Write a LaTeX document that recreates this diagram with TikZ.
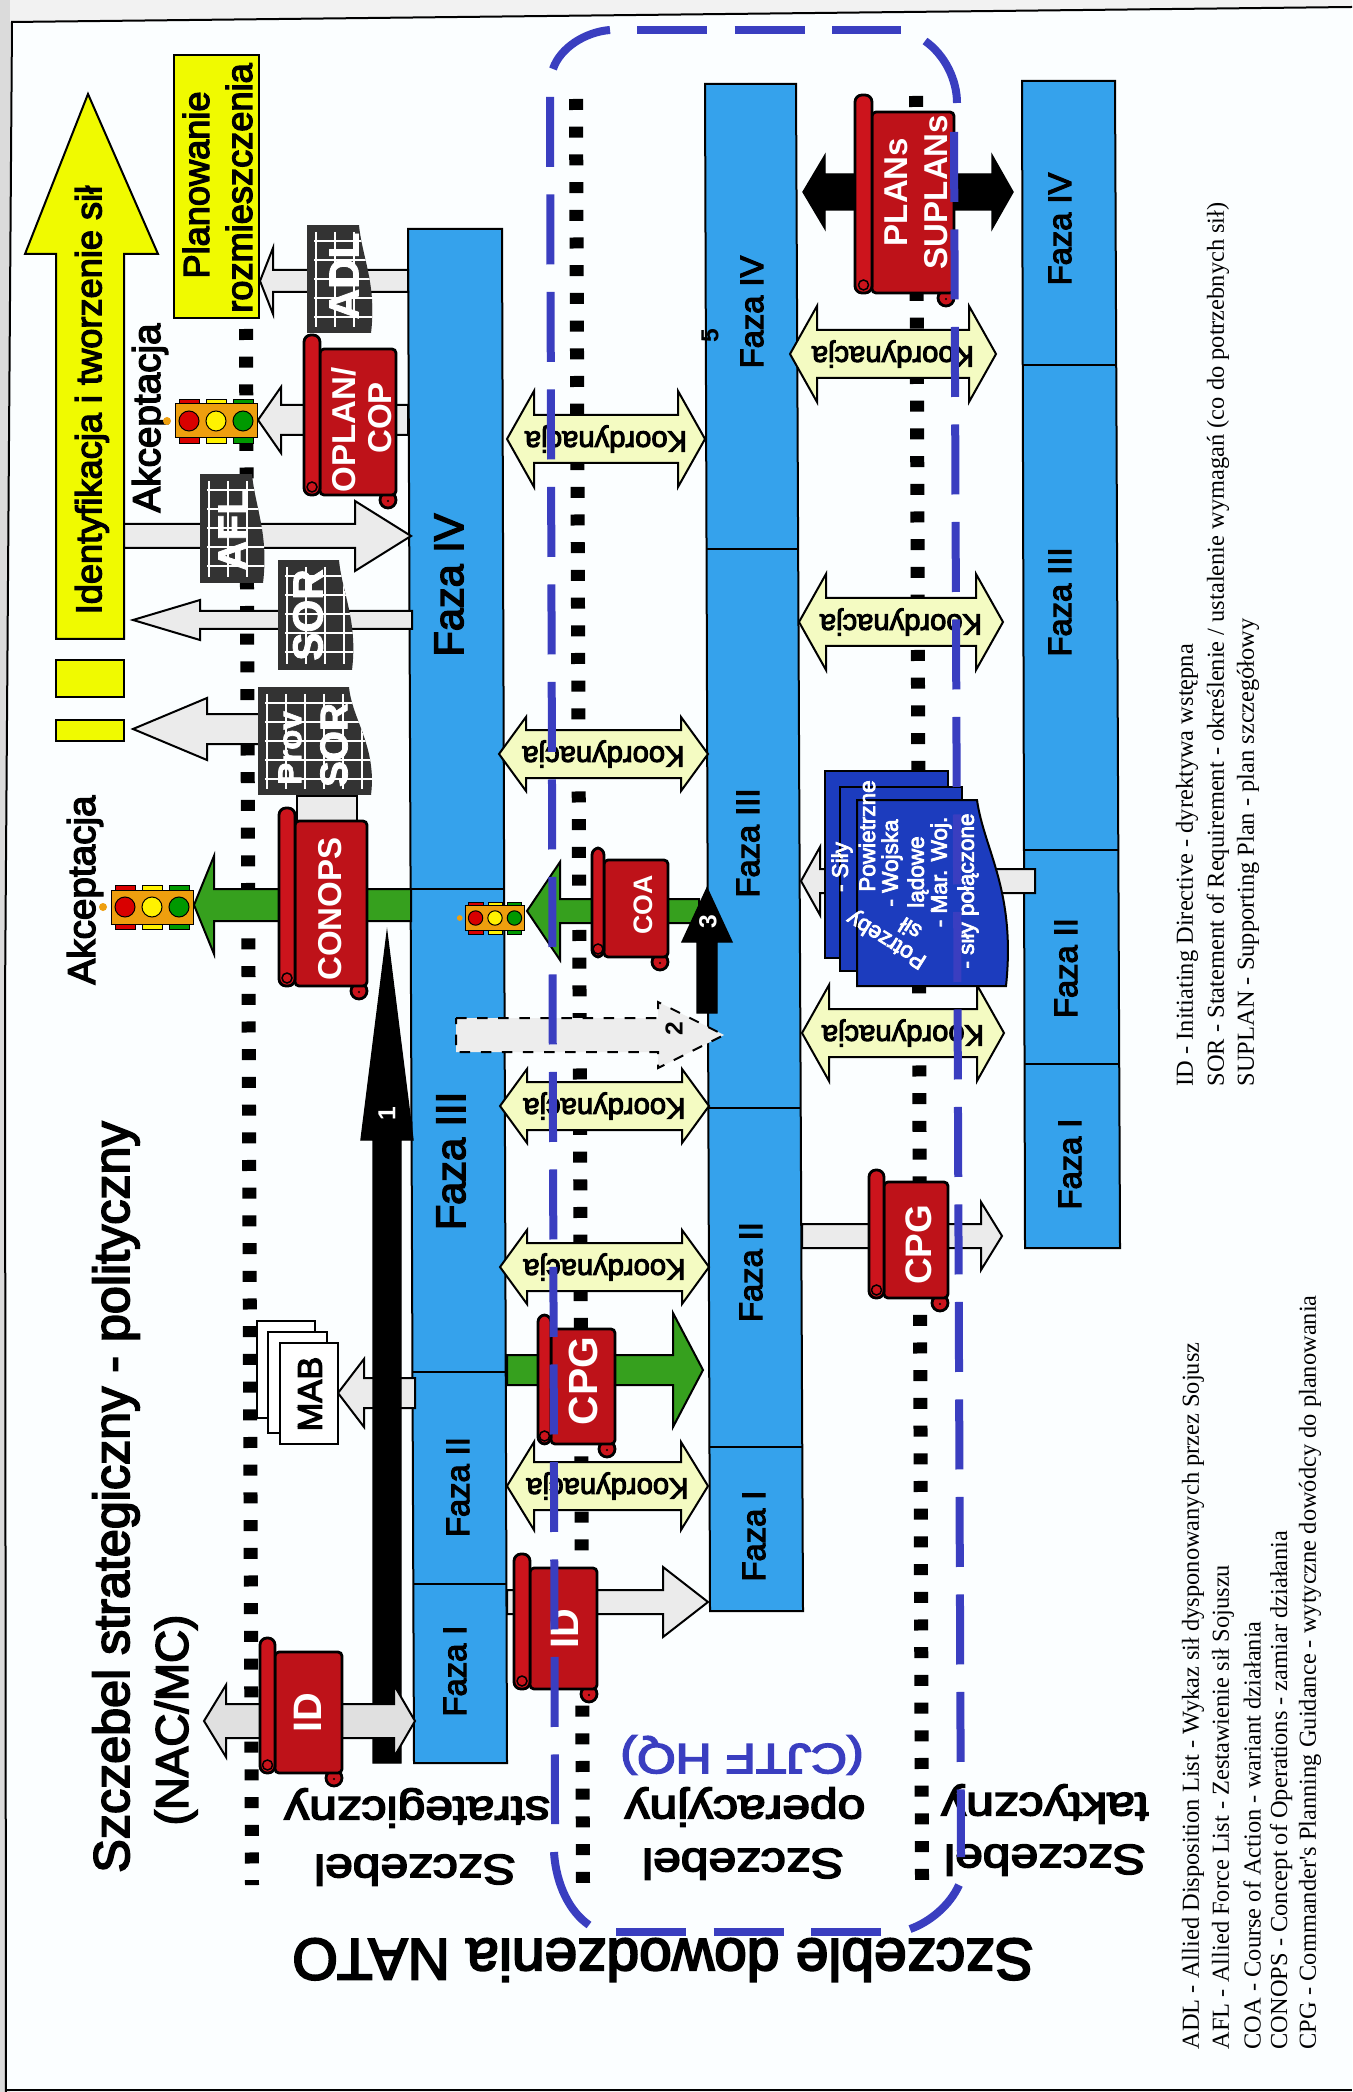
\documentclass[tikz,border=0pt]{standalone}
\usepackage{fontspec}
\setmainfont{Liberation Sans}
\newfontfamily\medsf[FakeBold=3.5]{Liberation Sans}
\newfontfamily\heavysf[BoldFeatures={FakeBold=2}]{Liberation Sans}
\newfontfamily\legendrm{Liberation Serif}
\usetikzlibrary{calc}

\definecolor{bgpaper}{HTML}{FBFEFF}
\definecolor{barblue}{HTML}{35A2EC}
\definecolor{levelblue}{HTML}{3A3EC0}
\definecolor{scrollred}{HTML}{BE1219}
\definecolor{rodred}{HTML}{CC141C}
\definecolor{ylw}{HTML}{F0FA00}
\definecolor{koordfill}{HTML}{F4FBC2}
\definecolor{grnarrow}{HTML}{36A01E}
\definecolor{sheetblue}{HTML}{1C3CBE}
\definecolor{lamp}{HTML}{EE9F0E}

\tikzset{
  every node/.style={inner sep=0pt},
  edge/.style={draw=black,line width=.2mm},
  thickedge/.style={draw=black,line width=.28mm},
  bar/.style={edge,fill=barblue},
  grayarrow/.style={edge,fill=gray!16},
  koordarrow/.style={edge,fill=koordfill},
  greenarrow/.style={edge,fill=grnarrow},
  blackarrow/.style={draw=black,fill=black},
  dashedarrow/.style={draw=black,line width=.2mm,dashed,fill=gray!14},
  dotline/.style={line width=1.4mm,dash pattern=on 1.1mm off 1.67mm},
  bluedash/.style={levelblue,line width=.8mm,dash pattern=on 7mm off 2.75mm},
  bluearc/.style={levelblue,line width=.8mm},
  fazatxt/.style={rotate=90,font=\medsf\fontsize{9.3}{10}\selectfont},
  fazabig/.style={rotate=90,font=\medsf\fontsize{11.8}{13}\selectfont},
  koordtxt/.style={rotate=180,font=\medsf\fontsize{8.3}{9}\selectfont},
  scrolltxt/.style={rotate=90,white,align=center,font=\bfseries\fontsize{9.4}{11.5}\selectfont},
  sheettxt/.style={rotate=90,white,font=\heavysf\bfseries\fontsize{12}{13}\selectfont},
  bluetxt/.style={rotate=90,white,font=\medsf\fontsize{6.4}{7}\selectfont},
  headtxt/.style={rotate=90,font=\medsf\fontsize{10.3}{12}\selectfont},
  leveltxt/.style={rotate=180,xscale=1.18,font=\medsf\fontsize{12}{14}\selectfont},
  numtxt/.style={rotate=90,font=\bfseries\fontsize{7}{8}\selectfont},
  legendtxt/.style={rotate=90,anchor=west,font=\legendrm\fontsize{6.95}{8}\selectfont}
}

\newcommand{\harrow}[7][grayarrow]{
  \draw[#1] (#2,#5-#6) -- (#3,#5-#6) -- (#3,#5-#7) -- (#4,#5) -- (#3,#5+#7) -- (#3,#5+#6) -- (#2,#5+#6) -- cycle;
}
\newcommand{\varrow}[7][blackarrow]{
  \draw[#1] (#2-#6,#3) -- (#2-#6,#4) -- (#2-#7,#4) -- (#2,#5) -- (#2+#7,#4) -- (#2+#6,#4) -- (#2+#6,#3) -- cycle;
}
\newcommand{\darrow}[8][grayarrow]{
  \draw[#1] (#2,#6) -- (#3,#6-#8) -- (#3,#6-#7) -- (#4,#6-#7) -- (#4,#6-#8) -- (#5,#6) -- (#4,#6+#8) -- (#4,#6+#7) -- (#3,#6+#7) -- (#3,#6+#8) -- cycle;
}
\newcommand{\koord}[5]{
  \darrow[koordarrow]{#1}{#1+27}{#2-27}{#2}{#3}{24}{#4}
  \node[koordtxt] (#5) at ({(#1+#2)/2},#3) {Koordynacja};
}
\newcommand{\redscroll}[6]{
  \draw[thickedge,fill=rodred] (#3-8,#6+5) circle [radius=8];
  \draw[thickedge,fill=scrollred,rounded corners=.4mm] (#2,#5) rectangle (#3,#6);
  \draw[thickedge,fill=rodred,rounded corners=.7mm] (#1,#4) rectangle (#2,#6);
  \draw[black,line width=.15mm,fill=rodred] ({(#1+#2)/2},#6-8) circle [radius=5];
  \fill[black] (#3-8,#6+6) circle [radius=1.2];
}
\newcommand{\gridsheet}[5]{
  \begin{scope}
    \path[clip] (#1,#4) -- (#2,#4) .. controls ({#2+3},{#4+.3*(#5-#4)}) and ({#3+6},{#4+.55*(#5-#4)}) .. (#3,#5) -- (#1,#5) -- cycle;
    \fill[black!80] (#1,#4) rectangle (#3+8,#5);
    \foreach \gx in {9,28,...,117}{
      \draw[white,line width=.13mm] (#1+\gx,#4+7) -- (#1+\gx,#5-6);
    }
    \foreach \gy in {16,35,...,106}{
      \draw[white,line width=.13mm] (#1+7,#4+\gy) -- (#3+8,#4+\gy);
    }
  \end{scope}
}
\newcommand{\lights}[3]{
  \begin{scope}[shift={(#1,#2)},scale=#3]
    \fill[lamp] (-49,0) circle [radius=4];
    \foreach \dx/\lampcol in {-27/red!85!black,0/yellow,27/green!60!black}{
      \draw[black,line width=.05mm,fill=\lampcol] (\dx-10,-22) rectangle (\dx+10,22);
    }
    \draw[black,line width=.1mm,fill=lamp] (-41,-17) rectangle (41,17);
    \foreach \dx/\lampcol in {-27/red!85!black,0/yellow,27/green!60!black}{
      \draw[black,line width=.1mm,fill=\lampcol] (\dx,0) circle [radius=10];
    }
  \end{scope}
}

\begin{document}
\begin{tikzpicture}[x=.1mm,y=-.1mm]
  \useasboundingbox (0,0) rectangle (1352,2092);
  \fill[gray!10] (0,0) rectangle (1352,2092);
  \fill[black!14] (0,0) rectangle (10,2092);
  \fill[bgpaper] (12,22) -- (1352,7) -- (1352,2090) -- (6,2090) -- (5,1000) -- cycle;
  \draw[black,line width=.2mm] (1352,7) -- (12,22) -- (5,1000) -- (6,2092);
  \draw[black,line width=.2mm] (6,2090) -- (1352,2090);

  \draw[dotline] (246,329) -- (252,1885);
  \draw[dotline] (576,99) -- (583,1885);
  \draw[dotline] (916,96) -- (922,1880);

  \draw[edge,fill=ylw] (56,639) -- (56,254) -- (25,254) -- (88,94) -- (158,254) -- (124,254) -- (124,639) -- cycle;
  \draw[edge,fill=ylw] (56,660) rectangle (124,697);
  \draw[edge,fill=ylw] (56,720) rectangle (124,741);
  \draw[edge,fill=ylw] (174,55) rectangle (259,318);
  \node[headtxt] (identyfikacja) at (92,400) {Identyfikacja i tworzenie sił};
  \node[headtxt] (planowanie) at (196,185) {Planowanie};
  \node[headtxt] (rozmieszczenia) at (239,188) {rozmieszczenia};
  \node[rotate=90,font=\medsf\fontsize{11}{12}\selectfont] (akceptacjaA) at (150,418) {Akceptacja};
  \node[rotate=90,font=\medsf\fontsize{11}{12}\selectfont] (akceptacjaB) at (85,890) {Akceptacja};

  \draw[bar] (408,229) -- (502,229) -- (507,1763) -- (414,1763) -- cycle;
  \draw[edge] (410.6,889) -- (504,889);
  \draw[edge] (412.5,1372) -- (505.7,1372);
  \draw[edge] (413.3,1584) -- (506.4,1584);
  \draw[bar] (705,84) -- (796,84) -- (803,1611) -- (710,1611) -- cycle;
  \draw[edge] (706.5,549) -- (798,549);
  \draw[edge] (708.4,1108) -- (800.7,1108);
  \draw[edge] (709.5,1447) -- (802.2,1447);
  \draw[bar] (1022,81) -- (1115,81) -- (1120,1248) -- (1025,1248) -- cycle;
  \draw[edge] (1022.7,365) -- (1116.2,365);
  \draw[edge] (1024,850) -- (1118.3,850);
  \draw[edge] (1024.5,1064) -- (1119.2,1064);
  \node[fazabig] (stratIV) at (449,585) {Faza IV};
  \node[fazabig] (stratIII) at (451,1161) {Faza III};
  \node[fazatxt] (stratII) at (458,1487) {Faza II};
  \node[fazatxt] (stratI) at (455,1671) {Faza I};
  \node[fazatxt] (operIV) at (752,312) {Faza IV};
  \node[fazatxt] (operIII) at (748,843) {Faza III};
  \node[fazatxt] (operII) at (751,1272) {Faza II};
  \node[fazatxt] (operI) at (754,1536) {Faza I};
  \node[fazatxt] (taktIV) at (1060,229) {Faza IV};
  \node[fazatxt] (taktIII) at (1060,602) {Faza III};
  \node[fazatxt] (taktII) at (1066,968) {Faza II};
  \node[fazatxt] (taktI) at (1070,1164) {Faza I};
  \node[numtxt] (numV) at (710,336) {5};

  \koord{507}{705}{439}{48}{koordA}
  \koord{499}{708}{754}{37}{koordB}
  \koord{500}{709}{1106}{37}{koordC}
  \koord{500}{709}{1267}{37}{koordD}
  \koord{507}{708}{1486}{44}{koordE}
  \koord{790}{996}{354}{48}{koordF}
  \koord{799}{1003}{622}{48}{koordG}
  \koord{802}{1004}{1033}{48}{koordH}

  \harrow{408}{273}{260}{281}{11}{33}
  \harrow{408}{281}{258}{420}{15}{33}
  \harrow{124}{355}{411}{536}{12}{35}
  \harrow{412}{200}{133}{620}{9}{20}
  \harrow{259}{207}{133}{729}{15}{31}
  \draw[edge,fill=gray!16] (297,796) rectangle (357,822);
  \harrow[greenarrow]{411}{214}{194}{905}{16}{49}
  \harrow[greenarrow]{699}{560}{527}{911}{12}{49}
  \harrow[greenarrow]{507}{673}{703}{1370}{15}{57}
  \harrow{415}{364}{338}{1393}{15}{34}
  \harrow{507}{663}{708}{1602}{12}{35}
  \harrow{802}{981}{1002}{1236}{12}{34}
  \harrow{1035}{820}{801}{881}{12}{34}
  \harrow[dashedarrow]{456}{658}{724}{1035}{17}{33}
  \varrow{387}{1763}{1140}{933}{14}{26}
  \varrow{707}{1013}{942}{888}{10}{25}
  \darrow[edge,fill=gray!24]{204}{226}{394}{415}{1721}{17}{36}
  \darrow[blackarrow]{803}{825}{992}{1013}{192}{18}{37}
  \node[numtxt,white] (numI) at (387,1114) {1};
  \node[numtxt] (numII) at (674,1029) {2};
  \node[numtxt,white] (numIII) at (708,922) {3};

  \gridsheet{307}{359}{371}{225}{333}
  \node[sheettxt] (adl) at (344,276) {ADL};
  \gridsheet{200}{252}{263}{474}{583}
  \node[sheettxt] (afl) at (233,530) {AFL};
  \gridsheet{278}{339}{352}{560}{670}
  \node[sheettxt] (sor) at (308,615) {SOR};
  \gridsheet{258}{349}{371}{687}{795}
  \node[sheettxt,font=\heavysf\bfseries\fontsize{9.4}{11}\selectfont] (provtxt) at (290,748) {Prov};
  \node[sheettxt,font=\heavysf\bfseries\fontsize{11}{13}\selectfont] (provsor) at (334,745) {SOR};

  \redscroll{304}{320}{396}{335}{349}{495}
  \node[scrolltxt] (oplan) at (344,430) {OPLAN/};
  \node[scrolltxt] (cop) at (380,418) {COP};
  \redscroll{279}{295}{367}{808}{821}{986}
  \node[scrolltxt] (conops) at (330,909) {CONOPS};
  \redscroll{592}{604}{668}{848}{860}{957}
  \node[scrolltxt,font=\bfseries\fontsize{7.6}{9}\selectfont] (coa) at (643,905) {COA};
  \redscroll{538}{551}{615}{1315}{1329}{1444}
  \node[scrolltxt,font=\bfseries\fontsize{11.6}{13}\selectfont] (cpgA) at (583,1381) {CPG};
  \redscroll{869}{884}{948}{1170}{1182}{1298}
  \node[scrolltxt,font=\bfseries\fontsize{10.5}{13}\selectfont] (cpgB) at (919,1245) {CPG};
  \redscroll{260}{275}{342}{1638}{1652}{1773}
  \node[scrolltxt,font=\bfseries\fontsize{11.3}{13}\selectfont] (idA) at (308,1713) {ID};
  \redscroll{514}{530}{597}{1554}{1568}{1689}
  \node[scrolltxt,font=\bfseries\fontsize{11.3}{13}\selectfont] (idB) at (565,1629) {ID};
  \redscroll{855}{872}{954}{95}{112}{293}
  \node[scrolltxt] (plans) at (896,192) {PLANs};
  \node[scrolltxt] (suplans) at (936,192) {SUPLANs};

  \lights{216}{421}{1}
  \lights{152}{907}{1}
  \lights{495}{918}{.72}

  \draw[edge,fill=white] (257,1321) rectangle (315,1418);
  \draw[edge,fill=white] (268,1332) rectangle (327,1433);
  \draw[edge,fill=white] (280,1343) rectangle (338,1444);
  \node[rotate=90,font=\medsf\fontsize{9.8}{11}\selectfont] (mab) at (310,1394) {MAB};

  \draw[edge,fill=sheetblue] (825,771) rectangle (948,958);
  \draw[edge,fill=sheetblue] (840,787) rectangle (962,971);
  \draw[edge,fill=sheetblue] (857,800) -- (977,800) .. controls (984,850) and (1016,890) .. (1006,986) -- (857,986) -- cycle;
  \node[bluetxt] (sily) at (842,867) {- Siły};
  \node[bluetxt] (powietrzne) at (867,836) {Powietrzne};
  \node[bluetxt] (wojska) at (892,863) {- Wojska};
  \node[bluetxt] (ladowe) at (918,872) {lądowe};
  \node[bluetxt] (marwoj) at (941,872) {- Mar. Woj.};
  \node[bluetxt] (polaczone) at (968,891) {- siły połączone};
  \node[bluetxt,rotate=58] (potrzeby) at (887,939) {Potrzeby};
  \node[bluetxt,rotate=58] (silgen) at (910,929) {sił};

  \node[rotate=90,font=\medsf\fontsize{14.3}{16}\selectfont] (szczstrat) at (116,1497) {Szczebel strategiczny - polityczny};
  \node[rotate=90,font=\medsf\fontsize{13}{15}\selectfont] (nacmc) at (176,1720) {(NAC/MC)};
  \node[leveltxt] (strA) at (415,1870) {Szczebel};
  \node[leveltxt] (strB) at (417,1808) {strategiczny};
  \node[leveltxt] (opA) at (743,1864) {Szczebel};
  \node[leveltxt] (opB) at (745,1807) {operacyjny};
  \node[leveltxt,levelblue] (cjtf) at (742,1755) {(CJTF HQ)};
  \node[leveltxt] (takA) at (1045,1860) {Szczebel};
  \node[leveltxt] (takB) at (1045,1804) {taktyczny};
  \node[rotate=180,font=\medsf\fontsize{16.7}{19}\selectfont] (szczeble) at (663,1960) {Szczeble dowodzenia NATO};

  \node[legendtxt] (legID) at (1187,1087) {ID - Initiating Directive - dyrektywa wstępna};
  \node[legendtxt] (legSOR) at (1218,1087) {SOR - Statement of Requirement - określenie / ustalenie wymagań (co do potrzebnych sił)};
  \node[legendtxt] (legSUP) at (1248,1087) {SUPLAN - Supporting Plan - plan szczegółowy};
  \node[legendtxt] (legADL) at (1193,2050) {ADL - Allied Disposition List - Wykaz sił dysponowanych przez Sojusz};
  \node[legendtxt] (legAFL) at (1223,2050) {AFL - Allied Force List - Zestawienie sił Sojuszu};
  \node[legendtxt] (legCOA) at (1252,2050) {COA - Course of Action - wariant działania};
  \node[legendtxt] (legCON) at (1281,2050) {CONOPS - Concept of Operations - zamiar działania};
  \node[legendtxt] (legCPG) at (1310,2050) {CPG - Commander's Planning Guidance - wytyczne dowódcy do planowania};

  \draw[bluedash] (550,97) -- (555,1824);
  \draw[bluedash] (637,30) -- (901,30);
  \draw[bluedash] (954,132) -- (961,1857);
  \draw[bluedash] (616,1932) -- (881,1932);
  \draw[bluearc] (553,69) .. controls (560,48) and (585,32) .. (610,30);
  \draw[bluearc] (925,41) .. controls (945,55) and (957,80) .. (957,103);
  \draw[bluearc] (554,1852) .. controls (556,1885) and (570,1912) .. (589,1925);
  \draw[bluearc] (959,1885) .. controls (950,1905) and (930,1922) .. (910,1929);
\end{tikzpicture}
\end{document}
